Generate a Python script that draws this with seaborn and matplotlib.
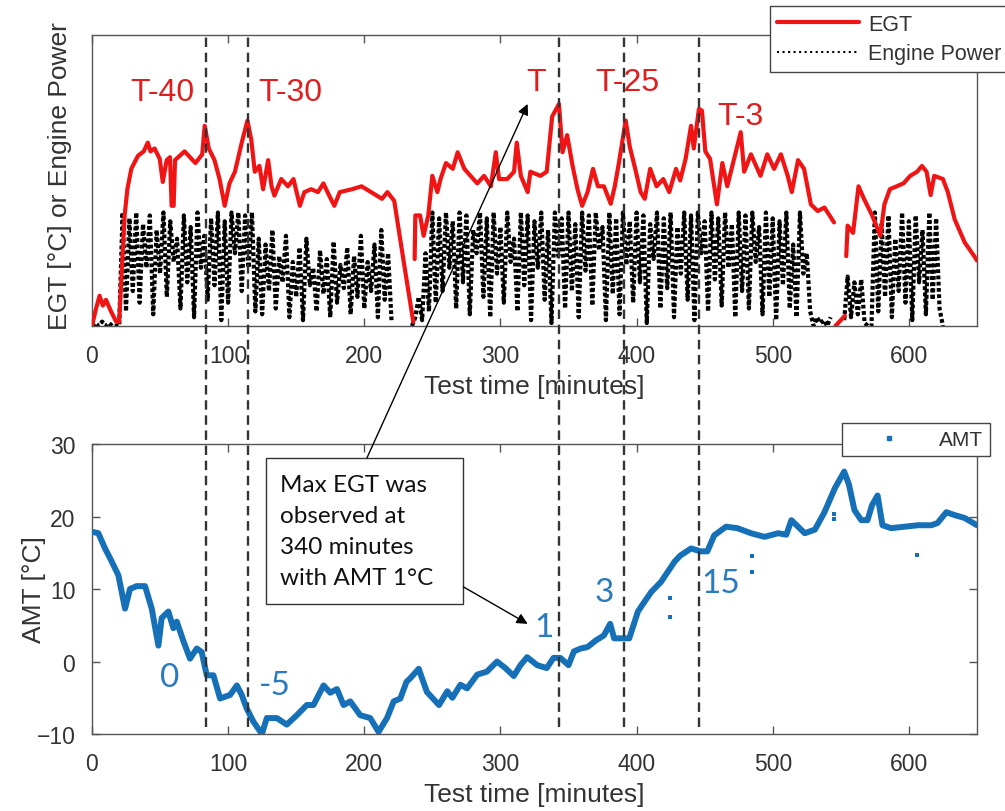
import numpy as np
import pandas as pd
import matplotlib
matplotlib.use("Agg")
import matplotlib.pyplot as plt
import seaborn as sns
from matplotlib.lines import Line2D
from matplotlib.patches import ConnectionPatch, Rectangle
from matplotlib.transforms import blended_transform_factory

nan = np.nan

# ---------------- data ----------------
egt_time = [
    0, 3, 5.6, 8, 10.3, 14, 17.9, 20, 22, 24,
    26, 28.9, 33.8, 38, 41, 43, 46, 49.8, 52, 54.9,
    57.3, 58.5, 60, 61, 68, 72, 76, 81, 82.8, 85.8,
    90, 93.7, 97.5, 101, 105, 110, 114.2, 117, 119.6, 123,
    125.7, 129.4, 131.9, 134, 139, 144, 148, 152.7, 156, 161,
    166, 170, 173, 178, 182, 191, 198, 205, 213, 217,
    222, 229, 236, 236.5, 237, 237.5, 241, 243.6, 247, 250,
    253.7, 256, 260, 265, 268.6, 273.5, 278, 283, 288, 293,
    296.6, 299, 305, 310, 312, 315, 320, 322, 329.4, 334,
    338, 343, 345.6, 349, 353, 356.6, 360, 364, 368, 371.6,
    376, 381, 384, 387, 392, 395, 399, 403, 406, 410,
    414.7, 419.6, 424, 429, 432, 436, 440, 442, 445.8, 448,
    450.5, 454, 459, 463, 466.6, 471.6, 476.5, 479, 484, 491,
    496, 501, 506, 511, 514, 518.6, 523, 528, 533, 538,
    545, 545.5, 546, 553, 553.5, 554, 555, 559, 563, 567,
    573, 579, 582, 586, 591, 596, 601, 606, 609.6, 613,
    616, 618.6, 625, 628.6, 633.6, 641, 648, 650,
]
egt_value = [
    0, 6, 10.4, 7, 9, 5, 1.4, 1.5, 20, 38,
    47, 54, 58.5, 60, 63, 60, 61, 57.4, 49.5, 57,
    58, 41.3, 41.3, 57, 60, 58, 56, 59, 68.8, 61,
    57, 50.5, 41.3, 49, 53, 63, 70.6, 64, 53, 55,
    47, 57, 48, 44.8, 50.5, 48, 50.5, 41.3, 46, 47,
    46, 49, 46, 41.3, 46, 47, 48, 46, 43.7, 46,
    43, 22, 1.4, nan, 23, 38, 38, 31, 38, 51.6,
    46, 50.5, 56, 54, 59.7, 54, 51.6, 49, 51.6, 48,
    59.7, 50.5, 50.5, 53, 63, 51.6, 46, 53, 51.6, 53,
    72, 76.3, 59.7, 65.6, 55, 47, 41.3, 46, 54, 48,
    48, 42, 48, 56, 70.6, 61.6, 54, 46, 43.7, 54,
    48, 50.5, 46, 54, 50, 57.4, 68.8, 61, 74.6, 74,
    60, 57.4, 41.8, 56, 48, 57.4, 66.6, 53, 59, 51.6,
    59, 54, 59, 51.6, 46, 57, 54, 41.8, 39.5, 40.7,
    35.6, nan, 0, 3.5, nan, 24, 34.5, 32, 48, 43.7,
    38, 31, 41.8, 47, 48, 49, 51.6, 53, 55, 53,
    45, 51.6, 50.5, 46, 36.7, 28.7, 24, 22.5,
]

# engine power, sampled every 2.5 minutes
power_step = 2.5
power_value = [
    0, 1, 0, 1.5, 0, 1, 0, 0, 0,
    39, 5, 37, 12, 39, 8, 35, 20, 38, 4,
    33, 18, 39, 10, 36, 22, 30, 6, 38, 15,
    34, 3, 39, 20, 31, 9, 37, 14, 39, 2,
    36, 8, 39, 25, 39, 12, 38, 20, 39, 5,
    30, 4, 28, 12, 33, 6, 24, 15, 31, 3,
    22, 10, 27, 2, 30, 14, 20, 5, 26, 11,
    23, 3, 29, 8, 21, 13, 27, 4, 24, 10,
    31, 6, 22, 12, 28, 3, 33, 9, 25, 2,
    nan, nan, nan, nan, nan, 0,
    3, 10, 2, 25, 5, 39, 8, 37, 12, 39,
    20, 36, 6, 39, 15, 38, 4, 33, 25, 39,
    10, 37, 3, 39, 18, 34, 8, 39, 22, 30,
    5, 39, 14, 38, 2, 36, 20, 39, 9, 33,
    1, 39, 24, 37, 6, 39, 12, 35, 3, 39,
    19, 38, 7, 39, 26, 34, 2, 39, 11, 37,
    4, 39, 21, 36, 8, 39, 15, 38, 1, 35,
    23, 39, 6, 37, 13, 39, 3, 34, 18, 39,
    9, 38, 2, 39, 25, 36, 5, 39, 16, 37,
    7, 39, 20, 35, 3, 39, 12, 38, 6, 39,
    22, 34, 4, 39, 10, 37, 2, 36, 14, 39,
    6, 28, 3, 39, 18, 25,
    5, 0, 3, 1, 2, 0, 3,
    nan, nan, nan,
    2, 17, 3, 15, 4, 16, 1,
    0, 0,
    39, 5, 35, 10, 38, 3, 30, 12, 39, 8,
    36, 2, 38, 15, 33, 4, 39, 9, 37, 6, 0,
]

amt_time = [
    0, 4.7, 9.6, 14.5, 19.4, 24.3, 27.9, 32.8, 39, 43.9,
    48.8, 51.2, 56.1, 59.8, 62.3, 67.2, 72, 77, 80.6, 84.3,
    89.2, 94.1, 101.5, 106.4, 110, 113.7, 118.6, 124.8, 128.4, 135.8,
    143.1, 150.5, 157.8, 162.7, 170.1, 175, 179.9, 184.8, 189.7, 197,
    204.4, 210.5, 216.7, 221.6, 226.5, 231, 233.8, 240, 246, 254.9,
    261, 264.7, 270.6, 275.5, 283, 290, 297.5, 303.6, 309.8, 314.7,
    319.6, 327, 334, 339, 344, 350, 354, 359, 364, 370,
    376, 380.6, 383.5, 388.5, 394.6, 401, 406, 410.8, 418, 423,
    428, 432, 440, 447, 452, 457, 465.7, 474, 484, 494,
    503.9, 510, 513.7, 518.6, 523.5, 531, 538, 545.6, 552.5, 556,
    560, 565, 569.6, 573, 577, 580.6, 587, 596.8, 606.6, 616.4,
    621, 627.5, 633.6, 641, 650,
]
amt_value = [
    17.9, 17.7, 15.6, 13.8, 11.9, 7.3, 10, 10.4, 10.4, 7.3,
    2.2, 6, 6.9, 4.6, 5.5, 2.8, 0.4, 1.8, 1.3, -1.9,
    -1.9, -5.1, -4.6, -3.3, -4.6, -6.5, -8.3, -10, -7.8, -7.8,
    -8.7, -7.4, -6, -6, -3.3, -4.3, -3.8, -6, -5.5, -7.4,
    -7.8, -9.7, -7.8, -5.5, -5.1, -2.8, -2.3, -1, -4.2, -6,
    -4.1, -5, -3.2, -3.7, -1.8, -1.4, 0, -0.9, -2, -0.5,
    0.6, -0.5, -0.9, 0.5, 0.5, -0.5, 1.4, 1.8, 2, 2.9,
    3.6, 5.2, 3.2, 3.2, 3.2, 6.9, 8.3, 9.6, 11, 12.4,
    13.8, 14.6, 15.6, 15.2, 15.2, 17.4, 18.6, 18.4, 17.7, 17.2,
    17.7, 17.5, 19.5, 18.6, 17.7, 18.2, 20.6, 23.9, 26.2, 24.4,
    20.9, 19.5, 19.5, 21.6, 22.9, 18.8, 18.4, 18.6, 18.8, 18.8,
    19.1, 20.6, 20.2, 19.8, 18.8,
]
amt_dot_time = [424.3, 424.3, 485, 485, 545, 545, 606]
amt_dot_value = [8.7, 6.2, 14.5, 12.4, 20.4, 19.6, 14.7]

event_time = [84, 114.7, 343, 391, 446]

egt_labels = ["T-40", "T-30", "T", "T-25", "T-3"]
egt_label_x = [51.5, 146, 326.5, 393, 476.5]
egt_label_y = [80.4, 80.4, 84, 84, 72]

amt_labels = ["0", "-5", "1", "3", "15"]
amt_label_x = [57, 134.6, 332, 376.5, 462]
amt_label_y = [-2.1, -3.3, 4.8, 9.6, 10.9]

x_ticks = [0, 100, 200, 300, 400, 500, 600]
amt_ticks = [-10, 0, 10, 20, 30]

note_text = "Max EGT was\nobserved at\n340 minutes\nwith AMT 1°C"

# ---------------- styling ----------------
RED = "#f01414"
RED_TXT = "#e01e1e"
BLUE = "#1670b8"
BLUE_TXT = "#2a7bbd"
SPINE = "#555555"
TXT = "#333333"

sns.set_style("white")
plt.rcParams["font.family"] = ["Liberation Sans", "DejaVu Sans"]

fig = plt.figure(figsize=(10.05, 8.12), dpi=100)
ax1 = fig.add_axes([0.0915, 0.5973, 0.8806, 0.3584])
ax2 = fig.add_axes([0.0915, 0.0948, 0.8806, 0.3571])


def segments(t, v):
    df = pd.DataFrame({"t": np.asarray(t, float), "v": np.asarray(v, float)})
    df["seg"] = df["v"].isna().cumsum()
    return df.dropna()


power_time = np.arange(len(power_value)) * power_step
pw = segments(power_time, power_value)
eg = segments(egt_time, egt_value)

sns.lineplot(data=pw, x="t", y="v", units="seg", estimator=None, sort=False,
             ax=ax1, color="black", lw=3.0, linestyle=(0, (0.9, 0.6)), zorder=2)
sns.lineplot(data=eg, x="t", y="v", units="seg", estimator=None, sort=False,
             ax=ax1, color=RED, lw=3.0, zorder=3)

am = pd.DataFrame({"t": amt_time, "v": amt_value})
sns.lineplot(data=am, x="t", y="v", estimator=None, sort=False, ax=ax2,
             color=BLUE, lw=4.3, zorder=3)
sns.scatterplot(x=amt_dot_time, y=amt_dot_value, ax=ax2, color=BLUE,
                marker="s", s=10, linewidth=0, zorder=3)

for ax in (ax1, ax2):
    ax.set_xlim(0, 650)
    ax.set_xticks(x_ticks)
    for s in ax.spines.values():
        s.set_color(SPINE)
        s.set_linewidth(1.0)
    ax.tick_params(axis="x", which="both", direction="in", bottom=True, top=True,
                   length=6, width=1, color=SPINE, labelsize=16.5,
                   labelcolor=TXT, pad=13)
    ax.set_xlabel("Test time [minutes]", fontsize=19, color=TXT)
    ax.xaxis.set_label_coords(0.5, -0.165)

ax1.set_ylim(0, 100)
ax1.set_yticks([])
ax1.set_ylabel("EGT [°C] or Engine Power", fontsize=19, color=TXT)
ax1.yaxis.set_label_coords(-0.022, 0.52)

ax2.set_ylim(-10, 30)
ax2.set_yticks(amt_ticks)
ax2.tick_params(axis="y", direction="in", left=True, right=True, length=6,
                width=1, color=SPINE, labelsize=16.5, labelcolor=TXT, pad=12)
ax2.set_ylabel("AMT [°C]", fontsize=19, color=TXT)
ax2.yaxis.set_label_coords(-0.052, 0.5)

# event markers spanning both panels
trans = blended_transform_factory(ax2.transData, fig.transFigure)
for t in event_time:
    fig.add_artist(Line2D([t, t], [0.1034, 0.9594], transform=trans,
                          color="#333333", lw=1.7, dashes=(4, 2.4), zorder=5))

for lab, x, y in zip(egt_labels, egt_label_x, egt_label_y):
    ax1.text(x, y, lab, color=RED_TXT, fontsize=23, ha="center", va="center")

for lab, x, y in zip(amt_labels, amt_label_x, amt_label_y):
    ax2.text(x, y, lab, color=BLUE_TXT, fontsize=24, ha="center", va="center",
             family=["Lato", "DejaVu Sans"])

# note box and arrows
ax2.add_patch(Rectangle((128, 8.0), 144.8, 20.1, fc="white", ec="#333333",
                        lw=1, zorder=6, clip_on=False))
ax2.text(138.2, 18.0, note_text, fontsize=17.5, family=["Lato", "DejaVu Sans"],
         ha="left", va="center", linespacing=1.6, color="#111111", zorder=7)

arrow_kw = dict(arrowstyle="-|>", mutation_scale=16, lw=1.0, color="black",
                shrinkA=0, shrinkB=0, zorder=7)
fig.add_artist(ConnectionPatch(xyA=(202, 28.1), coordsA=ax2.transData,
                               xyB=(320, 76.3), coordsB=ax1.transData, **arrow_kw))
fig.add_artist(ConnectionPatch(xyA=(272.8, 10.3), coordsA=ax2.transData,
                               xyB=(320, 5.2), coordsB=ax2.transData, **arrow_kw))

# legends
h1 = [Line2D([], [], color=RED, lw=3.0),
      Line2D([], [], color="black", lw=1.5, linestyle=":")]
fig.legend(h1, ["EGT", "Engine Power"], loc="upper left",
           bbox_to_anchor=(0.766, 0.991), bbox_transform=fig.transFigure,
           fontsize=15.5, handlelength=3.8, handletextpad=0.4, borderaxespad=0,
           borderpad=0.35, labelspacing=0.4, frameon=True, fancybox=False,
           edgecolor="#444444", framealpha=1, labelcolor=TXT)
h2 = [Line2D([], [], ls="none", marker="s", ms=3.5, color=BLUE)]
fig.legend(h2, ["AMT"], loc="upper left",
           bbox_to_anchor=(0.838, 0.478), bbox_transform=fig.transFigure,
           fontsize=15, handlelength=3.8, handletextpad=0.5, borderaxespad=0,
           borderpad=0.35, frameon=True, fancybox=False, edgecolor="#444444",
           framealpha=1, labelcolor=TXT)

fig.savefig("out.png", dpi=100)
